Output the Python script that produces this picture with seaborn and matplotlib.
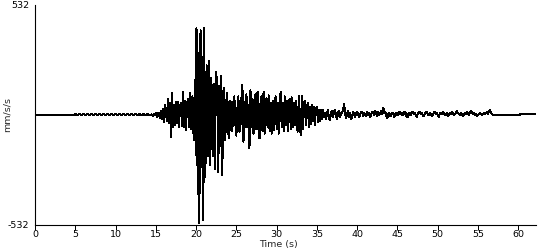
import numpy as np
import pandas as pd
import matplotlib
matplotlib.use("Agg")
import matplotlib.pyplot as plt
import seaborn as sns

# ---- data (mm/s/s) ----
# quiet pre-event record, 0-5 s (dt 0.25 s)
quiet_start, quiet_dt = 0.0, 0.25
quiet_vals = [0] * 20

# low noise, 5-14.5 s (dt 0.25 s)
noise_start, noise_dt = 5.0, 0.25
noise_vals = [4, 0, 4, 0, 4, 0, 4, 0, 4, 0, 4, 0, 4, 0, 4, 0, 4, 0, 4, 0,
              4, 0, 4, 0, 4, 0, 4, 0, 4, 0, 4, 0, 4, 0, 4, 0, 4, 0]

# early strong motion, 14.5-19.5 s (dt 0.125 s)
early_start, early_dt = 14.5, 0.125
early_vals = [
    3, -4, 5, -2, 8, -10, 4, 12,
    -15, 20, -18, 30, -32, 48, 20, -30,
    80, -40, 60, -105, 105, -60, 50, -50,
    65, -40, 65, -60, 40, 60, -55, 113,
    -60, 70, -72, 50, 80, -60, 105, -70,
]

# main shaking peaks, 19.5-23.5 s (times read per peak)
peak_times = [19.55, 19.7, 19.85, 19.95, 20.05, 20.2, 20.3, 20.4, 20.55, 20.7,
              20.8, 20.9, 21.0, 21.15, 21.3, 21.45, 21.6, 21.75, 21.9, 22.05,
              22.2, 22.35, 22.45, 22.6, 22.75, 22.9, 23.0, 23.1, 23.25, 23.4]
peak_vals = [90, -120, 170, -195, 420, -380, 300, -525, 410, -250,
             280, -510, 420, -300, 240, -200, 260, -240, 180, -200,
             150, -260, 210, 170, -275, 140, -150, 190, -290, 120]

# late strong motion, 23.5-36 s (dt 0.125 s)
late_start, late_dt = 23.5, 0.125
late_vals = [
    130, -121, 60, 105, -90, -110, 70, 40,
    -80, 60, 90, -40, -100, 30, 90, -80,
    -60, 80, 145, -129, -70, 60, 100, -60,
    50, -161, 120, -60, 80, -90, 30, 100,
    -70, 113, -40, -113, 60, 90, -80, 112,
    -90, 70, 80, -60, 95, -80, 60, -90,
    70, -72, 50, 90, -70, 60, -90, 70,
    110, -60, 60, -80, 90, -50, 70, -80,
    50, 80, -70, 85, -60, 60, -50, 70,
    -60, -80, 90, -50, -97, 90, -70, 60,
    70, -50, 30, 60, -60, 40, -45, 50,
    -30, 40, -50, 30, 40, -35, 25, -30,
    25, -20, 25, -10,
]

# coda, 36-57 s (dt 0.125 s)
coda_start, coda_dt = 36.0, 0.125
coda_vals = [
    10, -20, 5, 25, -15, -25, 10, 20,
    -10, 15, 25, -5, -20, 10, 20, -10,
    5, 15, 20, 55, 10, -15, 5, 20,
    -10, 10, -20, -5, 15, 5, -10, 10,
    15, 0, -10, 5, 15, 10, -5, 10,
    5, -5, 15, 0, 10, -10, 5, 15,
    10, 0, 20, 5, -5, 15, 0, 10,
    20, 5, 35, 10, 15, -5, -15, 5,
    10, -5, 0, 10, 5, -10, 5, 10,
    0, 10, 15, 5, 10, 0, 5, 15,
    10, -5, -10, 5, 10, 0, 10, 15,
    5, 10, 0, -10, 5, 10, 15, 5,
    10, 0, -5, 5, 10, 15, 5, 0,
    10, 5, -5, 0, 10, 15, 5, 10,
    0, -10, 5, 10, 5, 15, 10, 0,
    5, 10, -5, 0, 10, 5, 15, 10,
    0, 5, 10, 20, 10, 5, 0, 10,
    5, -5, 0, 10, 5, 15, 5, 0,
    10, 20, 15, 5, 10, 0, 5, -5,
    0, 5, 10, 5, 0, 5, 10, 5,
    10, 15, 5, 20, 25, 10, 5, 0,
]

# end of record (flat, then small offset)
tail_times = [57.0, 60.2, 60.25, 62.2]
tail_vals = [0, 0, 5, 5]

x_ticks = [0, 5, 10, 15, 20, 25, 30, 35, 40, 45, 50, 55, 60]
y_ticks = [-532, 532]

# ---- assemble series ----
def seg(start, dt, vals):
    return start + dt * np.arange(len(vals)), np.asarray(vals, float)

parts = [seg(quiet_start, quiet_dt, quiet_vals),
         seg(noise_start, noise_dt, noise_vals),
         seg(early_start, early_dt, early_vals),
         (np.asarray(peak_times, float), np.asarray(peak_vals, float)),
         seg(late_start, late_dt, late_vals),
         seg(coda_start, coda_dt, coda_vals),
         (np.asarray(tail_times, float), np.asarray(tail_vals, float))]
t = np.concatenate([p[0] for p in parts])
a = np.concatenate([p[1] for p in parts])
df = pd.DataFrame({"Time (s)": t, "mm/s/s": a})

# ---- plot ----
sns.set_style("ticks")
plt.rcParams["font.family"] = ["DejaVu Sans"]

fig = plt.figure(figsize=(5.5, 2.5), dpi=100)
ax = fig.add_axes([35 / 550, 1 - 225 / 250, (536 - 35) / 550, 220 / 250])
sns.lineplot(data=df, x="Time (s)", y="mm/s/s", ax=ax, color="black",
             linewidth=0.72, estimator=None, sort=False, antialiased=False)

ax.set_xlim(0, 62.2)
ax.set_ylim(-532, 532)
ax.set_xticks(x_ticks)
ax.set_xticklabels([str(v) for v in x_ticks], fontsize=6.8)
ax.set_yticks(y_ticks)
ax.set_yticklabels([str(v) for v in y_ticks], fontsize=6.8)
ax.tick_params(axis="x", direction="out", length=3.5, width=0.72, pad=0.2, colors="black")
ax.tick_params(axis="y", length=0, pad=4, colors="black")
ax.set_xlabel("Time (s)", fontsize=6.8)
ax.set_ylabel("mm/s/s", fontsize=6.8)
ax.xaxis.set_label_coords((278 - 35) / 501, (225 - 240) / 220)
ax.yaxis.set_label_coords((12 - 35) / 501, 0.5)
for s in ("top", "right"):
    ax.spines[s].set_visible(False)
for s in ("left", "bottom"):
    ax.spines[s].set_color("black")
    ax.spines[s].set_linewidth(0.8)

fig.savefig("out.png", dpi=100, facecolor="white")
